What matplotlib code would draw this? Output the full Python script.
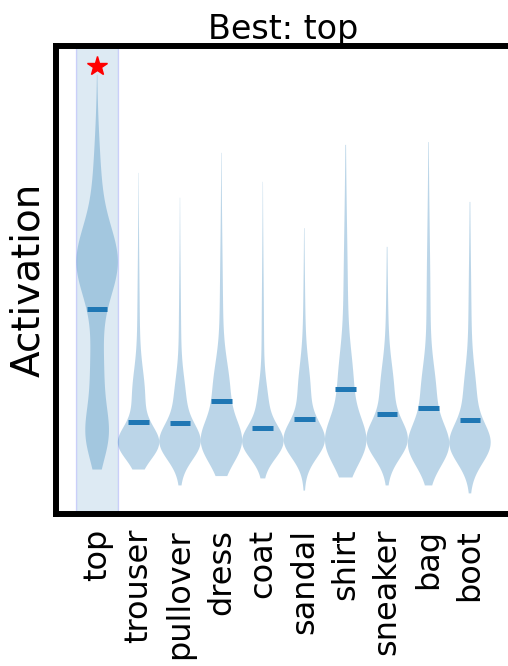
import numpy as np
import matplotlib
matplotlib.use("Agg")
import matplotlib.pyplot as plt

# Classes of the dataset, in plotting order
categories = ["top", "trouser", "pullover", "dress", "coat",
              "sandal", "shirt", "sneaker", "bag", "boot"]
best_class = "top"

# Summary of each class's activation distribution
act_min = [0.94, 0.94, 0.60, 0.80, 0.75, 0.49, 0.77, 0.60, 0.60, 0.43]
act_max = [9.38, 7.28, 6.75, 7.71, 7.09, 6.10, 7.88, 5.70, 7.94, 6.66]
act_median = [4.37, 1.95, 1.93, 2.40, 1.82, 2.01, 2.66, 2.12, 2.25, 1.99]

# Density of each class described by a few bumps: location, spread, height
mode_loc = [[5.35, 6.80, 3.00, 1.65],
            [1.50, 2.50, 3.00],
            [1.52, 2.42, 3.02],
            [1.52, 2.62, 3.52],
            [1.52, 2.32, 3.02],
            [1.56, 2.56, 3.06],
            [1.52, 2.72, 4.02],
            [1.56, 2.56, 3.06],
            [1.45, 2.55, 3.95],
            [1.48, 2.48, 3.48]]
mode_sd = [[0.74, 1.10, 1.00, 0.55],
           [0.35, 0.55, 2.0],
           [0.38, 0.50, 1.8],
           [0.45, 0.60, 2.0],
           [0.35, 0.45, 2.0],
           [0.38, 0.60, 1.6],
           [0.50, 0.70, 2.0],
           [0.40, 0.60, 1.5],
           [0.45, 0.60, 2.0],
           [0.42, 0.60, 1.8]]
mode_height = [[1.0, 0.22, 0.36, 0.48],
               [1.0, 0.27, 0.08],
               [1.0, 0.24, 0.07],
               [1.0, 0.37, 0.10],
               [1.0, 0.22, 0.07],
               [1.0, 0.27, 0.08],
               [1.0, 0.32, 0.13],
               [1.0, 0.30, 0.09],
               [1.0, 0.32, 0.11],
               [1.0, 0.27, 0.09]]

star_y = 9.56

positions = np.arange(len(categories))

# Build the violin statistics that Axes.violin expects
vpstats = []
for lo, hi, med, locs, sds, hts in zip(act_min, act_max, act_median,
                                       mode_loc, mode_sd, mode_height):
    coords = np.linspace(lo, hi, 400)
    dens = np.zeros_like(coords)
    for m, s, h in zip(locs, sds, hts):
        dens += h * np.exp(-0.5 * ((coords - m) / s) ** 2)
    vpstats.append(dict(coords=coords, vals=dens, mean=med, median=med,
                        min=lo, max=hi))

W, H = 508, 666
fig = plt.figure(figsize=(W / 100, H / 100), dpi=100)
left, right, top, bottom = 55.7, 511.4, 45.7, 513.5
ax = fig.add_axes([left / W, 1 - bottom / H, (right - left) / W, (bottom - top) / H])

best_idx = categories.index(best_class)
ax.axvspan(best_idx - 0.5, best_idx + 0.5, facecolor="C0", edgecolor="blue",
           alpha=0.15, lw=1.0)

parts = ax.violin(vpstats, positions=positions, widths=1.0,
                  showmedians=True, showextrema=False)
parts["cmedians"].set_linewidth(3.6)

ax.plot(best_idx, star_y, marker="*", color="red", ms=15, ls="none")

ax.set_xlim(-1, 10)
ax.set_ylim(0, 10)
ax.set_xticks(positions)
ax.set_xticklabels(categories, rotation=90, fontsize=23)
ax.set_yticks([])
ax.tick_params(axis="x", length=0, pad=11)
for sp in ax.spines.values():
    sp.set_linewidth(4.3)

ax.set_ylabel("Activation", fontsize=28, labelpad=6)
ax.set_title(f"Best: {best_class}", fontsize=24, pad=4)

fig.savefig("out.png", dpi=100)
